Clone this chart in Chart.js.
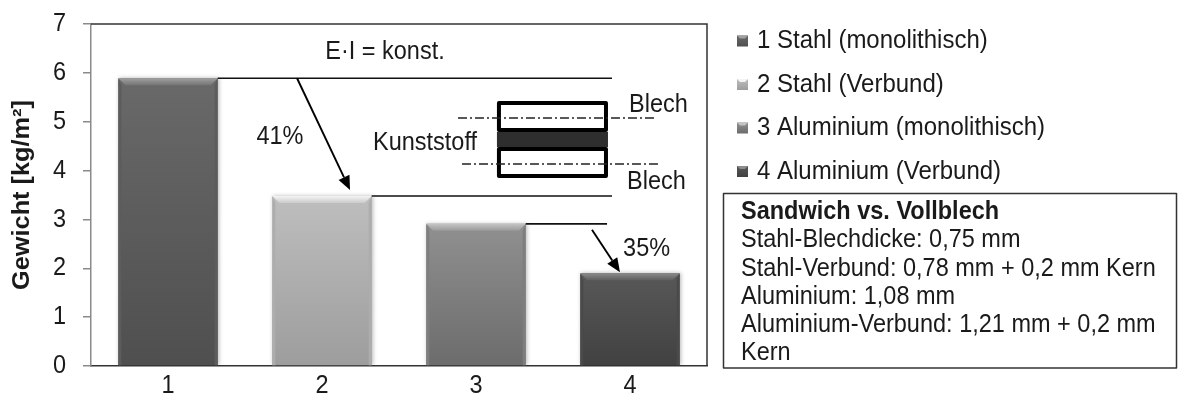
<!DOCTYPE html>
<html>
<head>
<meta charset="utf-8">
<script src="https://cdn.jsdelivr.net/npm/chart.js@4.4.1/dist/chart.umd.min.js"></script>
<style>
  html, body { margin: 0; padding: 0; background: #ffffff; }
  canvas { display: block; }
</style>
</head>
<body>
<canvas id="weightChart" width="1179" height="405"></canvas>
<script>
// ---- chart data ----
const categories = ['1', '2', '3', '4'];
const seriesNames = [
  '1 Stahl (monolithisch)',
  '2 Stahl (Verbund)',
  '3 Aluminium (monolithisch)',
  '4 Aluminium (Verbund)'
];
const weights = [5.89, 3.48, 2.91, 1.90];          // kg/m²
const yTickValues = [0, 1, 2, 3, 4, 5, 6, 7];
const yTitle = 'Gewicht [kg/m²]';
const stiffnessLabel = 'E·I = konst.';
const layerLabels = ['Blech', 'Kunststoff', 'Blech'];
const noteTitle = 'Sandwich vs. Vollblech';
const noteLines = [
  'Stahl-Blechdicke: 0,75 mm',
  'Stahl-Verbund: 0,78 mm + 0,2 mm Kern',
  'Aluminium: 1,08 mm',
  'Aluminium-Verbund: 1,21 mm + 0,2 mm',
  'Kern'
];

// ---- styling ----
const FONT = "'Liberation Sans', Arial, sans-serif";
const TEXT = '#1a1a1a';
const FS = 23.5;
const TALL = 1.1;   // glyphs are drawn slightly taller than wide
// face gradient (top, bottom) and bevel gradient (outer, inner) per bar
const faceShades = [['#696969', '#4f4f4f'], ['#bebebe', '#9d9d9d'], ['#909090', '#6c6c6c'], ['#585858', '#414141']];
const bevelShades = [['#a0a0a0', '#757575'], ['#f4f4f4', '#cbcbcb'], ['#c4c4c4', '#999999'], ['#8c8c8c', '#5f5f5f']];
const sideShades = ['#5c5c5c', '#adadad', '#7e7e7e', '#4a4a4a'];

function reductionText(from, to) {
  return Math.round((1 - weights[to] / weights[from]) * 100) + '%';
}

// text drawn with a small vertical stretch, centred on y
function tallText(c, text, x, y, align, font, rot) {
  c.save();
  c.translate(x, y);
  if (rot) { c.rotate(rot); c.scale(TALL, 1); } else { c.scale(1, TALL); }
  c.font = font;
  c.textAlign = align;
  c.textBaseline = 'middle';
  c.fillStyle = TEXT;
  c.fillText(text, 0, 0);
  c.restore();
}

function faceFill(ctx) {
  const chart = ctx.chart;
  const i = ctx.dataIndex;
  if (!chart.chartArea || i === undefined) return faceShades[i || 0][0];
  const ys = chart.scales.y;
  const top = ys.getPixelForValue(weights[i]);
  const bottom = ys.getPixelForValue(0);
  const g = chart.ctx.createLinearGradient(0, top, 0, bottom);
  g.addColorStop(0, faceShades[i][0]);
  g.addColorStop(1, faceShades[i][1]);
  return g;
}

function arrow(ctx, x1, y1, x2, y2) {
  const ang = Math.atan2(y2 - y1, x2 - x1);
  const len = 14, half = 6;
  const bx = x2 - len * Math.cos(ang), by = y2 - len * Math.sin(ang);
  ctx.beginPath();
  ctx.moveTo(x1, y1);
  ctx.lineTo(bx, by);
  ctx.stroke();
  ctx.beginPath();
  ctx.moveTo(x2, y2);
  ctx.lineTo(bx + half * Math.sin(ang), by - half * Math.cos(ang));
  ctx.lineTo(bx - half * Math.sin(ang), by + half * Math.cos(ang));
  ctx.closePath();
  ctx.fill();
}

// soft shadow + beveled edges on the bars
const barBevel = {
  id: 'barBevel',
  beforeDatasetsDraw(chart) {
    const c = chart.ctx;
    c.save();
    c.shadowColor = 'rgba(0,0,0,0.28)';
    c.shadowBlur = 4;
    c.shadowOffsetX = 1;
    c.shadowOffsetY = 0;
  },
  afterDatasetsDraw(chart) {
    const c = chart.ctx;
    c.restore();
    const meta = chart.getDatasetMeta(0);
    meta.data.forEach((el, i) => {
      const p = el.getProps(['x', 'y', 'base', 'width'], true);
      const l = p.x - p.width / 2, r = p.x + p.width / 2, t = p.y, b = p.base;
      const bv = 7, sd = 3;
      c.save();
      c.fillStyle = sideShades[i];
      c.beginPath();
      c.moveTo(l, t); c.lineTo(l + sd, t + bv); c.lineTo(l + sd, b); c.lineTo(l, b); c.closePath();
      c.fill();
      c.beginPath();
      c.moveTo(r, t); c.lineTo(r - sd, t + bv); c.lineTo(r - sd, b); c.lineTo(r, b); c.closePath();
      c.fill();
      const g = c.createLinearGradient(0, t, 0, t + bv);
      g.addColorStop(0, bevelShades[i][0]);
      g.addColorStop(1, bevelShades[i][1]);
      c.fillStyle = g;
      c.beginPath();
      c.moveTo(l, t); c.lineTo(r, t); c.lineTo(r - bv, t + bv); c.lineTo(l + bv, t + bv); c.closePath();
      c.fill();
      c.restore();
    });
  }
};

// axis labels, plot frame, reference lines, arrows, sandwich sketch, legend and note box
const decorations = {
  id: 'decorations',
  afterDraw(chart) {
    const c = chart.ctx;
    const xs = chart.scales.x, ys = chart.scales.y;
    const area = chart.chartArea;
    const x0 = xs.getPixelForValue(0);
    const step = xs.getPixelForValue(1) - x0;
    const X = v => x0 + v * step;
    const Y = v => ys.getPixelForValue(v);
    const bars = chart.getDatasetMeta(0).data;
    const rightEdge = i => bars[i].x + bars[i].width / 2;
    const f = `${FS}px ${FONT}`;

    c.save();
    // tick labels and axis title
    ys.ticks.forEach((t, i) => tallText(c, String(t.value), area.left - 25, ys.getPixelForTick(i), 'right', f));
    categories.forEach((lab, i) => tallText(c, lab, xs.getPixelForTick(i), area.bottom + 20, 'center', f));
    tallText(c, yTitle, 23, (area.top + area.bottom) / 2, 'center', `bold 23px ${FONT}`, -Math.PI / 2);

    // frame: top and right edges
    c.strokeStyle = '#333333';
    c.lineWidth = 1.5;
    c.beginPath();
    c.moveTo(area.left, area.top);
    c.lineTo(area.right, area.top);
    c.lineTo(area.right, area.bottom);
    c.stroke();

    // level lines from bar tops
    c.strokeStyle = '#111111';
    c.lineWidth = 1.6;
    [[0, 2.883], [1, 2.883], [2, 2.851]].forEach(([i, end]) => {
      c.beginPath();
      c.moveTo(rightEdge(i), Y(weights[i]));
      c.lineTo(X(end), Y(weights[i]));
      c.stroke();
    });

    // reduction arrows
    c.fillStyle = '#000000';
    c.strokeStyle = '#000000';
    c.lineWidth = 1.9;
    arrow(c, X(0.838), Y(weights[0]), X(1.182), Y(weights[1]) - 6);
    arrow(c, X(2.753), Y(weights[2]) + 6, X(2.935), Y(weights[3]) - 1);

    // texts inside the plot
    tallText(c, stiffnessLabel, X(1.409), Y(6.43), 'center', f);
    tallText(c, reductionText(0, 1), X(0.727), Y((weights[0] + weights[1]) / 2), 'center', f);
    tallText(c, reductionText(2, 3), X(2.955), Y((weights[2] + weights[3]) / 2), 'left', f);

    // sandwich sketch
    const sl = X(2.136), sr = X(2.857);
    const yA = Y(5.424), yB = Y(4.79), yC = Y(4.48), yD = Y(3.85);
    c.fillStyle = '#2e2e2e';
    c.fillRect(sl, yB, sr - sl, yC - yB);
    c.fillStyle = '#ffffff';
    c.fillRect(sl + 2, yA + 2, sr - sl - 4, yB - yA - 4);
    c.fillRect(sl + 2, yC + 2, sr - sl - 4, yD - yC - 4);
    c.strokeStyle = '#000000';
    c.lineWidth = 4;
    c.lineJoin = 'round';
    c.strokeRect(sl + 2, yA + 2, sr - sl - 4, yB - yA - 4);
    c.strokeRect(sl + 2, yC + 2, sr - sl - 4, yD - yC - 4);
    c.lineWidth = 1.6;
    c.strokeStyle = '#222222';
    c.setLineDash([9, 3, 2, 3]);
    c.beginPath();
    c.moveTo(X(1.883), Y(5.076)); c.lineTo(X(3.175), Y(5.076));
    c.moveTo(X(1.909), Y(4.134)); c.lineTo(X(3.182), Y(4.134));
    c.stroke();
    c.setLineDash([]);

    tallText(c, layerLabels[0], X(2.994), Y(5.34), 'left', f);
    tallText(c, layerLabels[1], X(1.331), Y(4.564), 'left', f);
    tallText(c, layerLabels[2], X(2.981), Y(3.77), 'left', f);

    // legend
    const legX = 737, legText = 757, legY = [41, 84.5, 128, 171.5], sq = 11;
    seriesNames.forEach((name, i) => {
      const y = legY[i];
      const g = c.createLinearGradient(0, y - sq / 2, 0, y + sq / 2);
      g.addColorStop(0, faceShades[i][0]);
      g.addColorStop(1, faceShades[i][1]);
      c.fillStyle = g;
      c.fillRect(legX, y - sq / 2, sq, sq);
      c.fillStyle = bevelShades[i][0];
      c.beginPath();
      c.moveTo(legX, y - sq / 2); c.lineTo(legX + sq, y - sq / 2);
      c.lineTo(legX + sq - 3, y - sq / 2 + 3); c.lineTo(legX + 3, y - sq / 2 + 3);
      c.closePath(); c.fill();
      tallText(c, name, legText, y, 'left', `24px ${FONT}`);
    });

    // note box
    c.strokeStyle = '#333333';
    c.lineWidth = 1.5;
    c.strokeRect(723.5, 193.5, 1176.5 - 723.5, 368 - 193.5);
    tallText(c, noteTitle, 741, 212, 'left', `bold ${FS}px ${FONT}`);
    noteLines.forEach((line, k) => tallText(c, line, 741, 212 + (k + 1) * 28.2, 'left', f));
    c.restore();
  }
};

new Chart(document.getElementById('weightChart'), {
  type: 'bar',
  data: {
    labels: categories,
    datasets: [{
      data: weights,
      backgroundColor: faceFill,
      borderWidth: 0,
      barPercentage: 0.645,
      categoryPercentage: 1
    }]
  },
  options: {
    responsive: false,
    animation: false,
    events: [],
    layout: { padding: { left: 0, top: 24, right: 472, bottom: 0 } },
    plugins: { legend: { display: false }, tooltip: { enabled: false } },
    scales: {
      x: {
        grid: { display: true, drawOnChartArea: false, drawTicks: false },
        border: { display: true, color: '#333333', width: 1.5 },
        ticks: { display: false },
        afterFit(s) { s.height = 39; }
      },
      y: {
        min: 0,
        max: 7,
        afterBuildTicks(s) { s.ticks = yTickValues.map(v => ({ value: v })); },
        ticks: { display: false },
        grid: { display: true, drawOnChartArea: false, drawTicks: true, tickLength: 8, color: '#8a8a8a', lineWidth: 1.5 },
        border: { display: true, color: '#8a8a8a', width: 1.5 },
        afterFit(s) { s.width = 91; }
      }
    }
  },
  plugins: [barBevel, decorations]
});
</script>
</body>
</html>
